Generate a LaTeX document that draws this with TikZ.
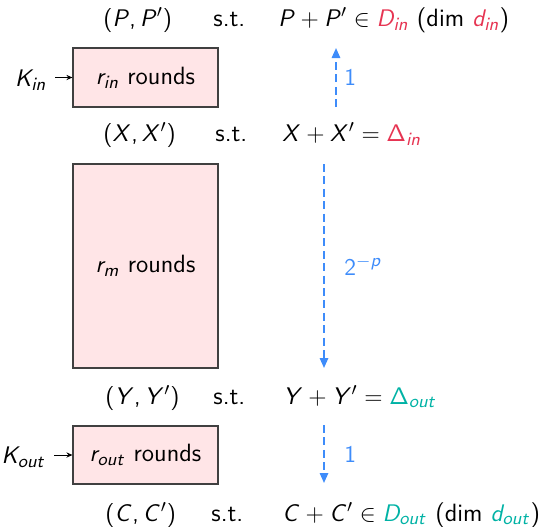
\documentclass[tikz,border=0pt]{standalone}
\usetikzlibrary{arrows.meta}
\SetSymbolFont{letters}{normal}{OT1}{cmss}{m}{sl}
\SetSymbolFont{operators}{normal}{OT1}{cmss}{m}{n}
\DeclareMathSymbol{,}{\mathpunct}{operators}{"2C}
\definecolor{dred}{RGB}{230,52,82}
\definecolor{dteal}{RGB}{0,178,165}
\definecolor{dblue}{RGB}{62,140,250}
\definecolor{boxfill}{RGB}{255,229,231}
\begin{document}
\begin{tikzpicture}[x=0.5pt,y=-0.5pt,
  every node/.style={font=\fontsize{12.5}{14}\selectfont\sffamily, inner sep=0pt},
  txt/.style={anchor=base west},
  roundbox/.style={draw=black!75, line width=0.55pt, fill=boxfill},
  prob/.style={dblue, dashed, dash pattern=on 4pt off 2.2pt, line width=0.9pt, -{Triangle[length=5pt,width=4.2pt]}},
  plbl/.style={text=dblue, anchor=west},
  karrow/.style={-{Stealth[length=3pt,width=2.6pt]}, line width=0.5pt}]
\path[use as bounding box] (0,0) rectangle (540,526);
% rows
\node[txt] (pp) at (103,26) {$(P,P')$};
\node[txt] (st1) at (213,26) {s.t.};
\node[txt] (f1) at (278,26) {$P+P'\in{\color{dred}D_{in}}$ (dim ${\color{dred}d_{in}}$)};
\node[txt] (xx) at (103,141) {$(X,X')$};
\node[txt] (st2) at (215,141) {s.t.};
\node[txt] (f2) at (282,141) {$X+X'={\color{dred}\Delta_{in}}$};
\node[txt] (yy) at (105,404) {$(Y,Y')$};
\node[txt] (st3) at (213,404) {s.t.};
\node[txt] (f3) at (283,404) {$Y+Y'={\color{dteal}\Delta_{out}}$};
\node[txt] (cc) at (105,521) {$(C,C')$};
\node[txt] (st4) at (211,521) {s.t.};
\node[txt] (f4) at (282,521) {$C+C'\in{\color{dteal}D_{out}}$ (dim ${\color{dteal}d_{out}}$)};
% boxes
\node[roundbox, minimum width=72.5pt, minimum height=29.5pt] (b1) at (145.5,77.5) {$r_{in}$ rounds};
\node[roundbox, minimum width=72.5pt, minimum height=102pt] (b2) at (145.5,266) {$r_{m}$ rounds};
\node[roundbox, minimum width=72.5pt, minimum height=29pt] (b3) at (145.5,455) {$r_{out}$ rounds};
% keys
\node[anchor=east] (kin) at (47,80) {$K_{in}$};
\node[anchor=east] (kout) at (46,457) {$K_{out}$};
\draw[karrow] ([xshift=4pt]kin.east |- b1.west) -- (b1.west);
\draw[karrow] ([xshift=4pt]kout.east |- b3.west) -- (b3.west);
% probability arrows
\coordinate (a1s) at (336,107);
\coordinate (a1e) at (336,48);
\coordinate (a2s) at (324,164);
\coordinate (a2e) at (324,368);
\coordinate (a3s) at (324,425);
\coordinate (a3e) at (324,483);
\draw[prob] (a1s) -- (a1e);
\draw[prob] (a2s) -- (a2e);
\draw[prob] (a3s) -- (a3e);
\node[plbl] (l1) at (344,78) {$1$};
\node[plbl] (l2) at (344,266) {$2^{-p}$};
\node[plbl] (l3) at (344,455) {$1$};
\end{tikzpicture}
\end{document}
